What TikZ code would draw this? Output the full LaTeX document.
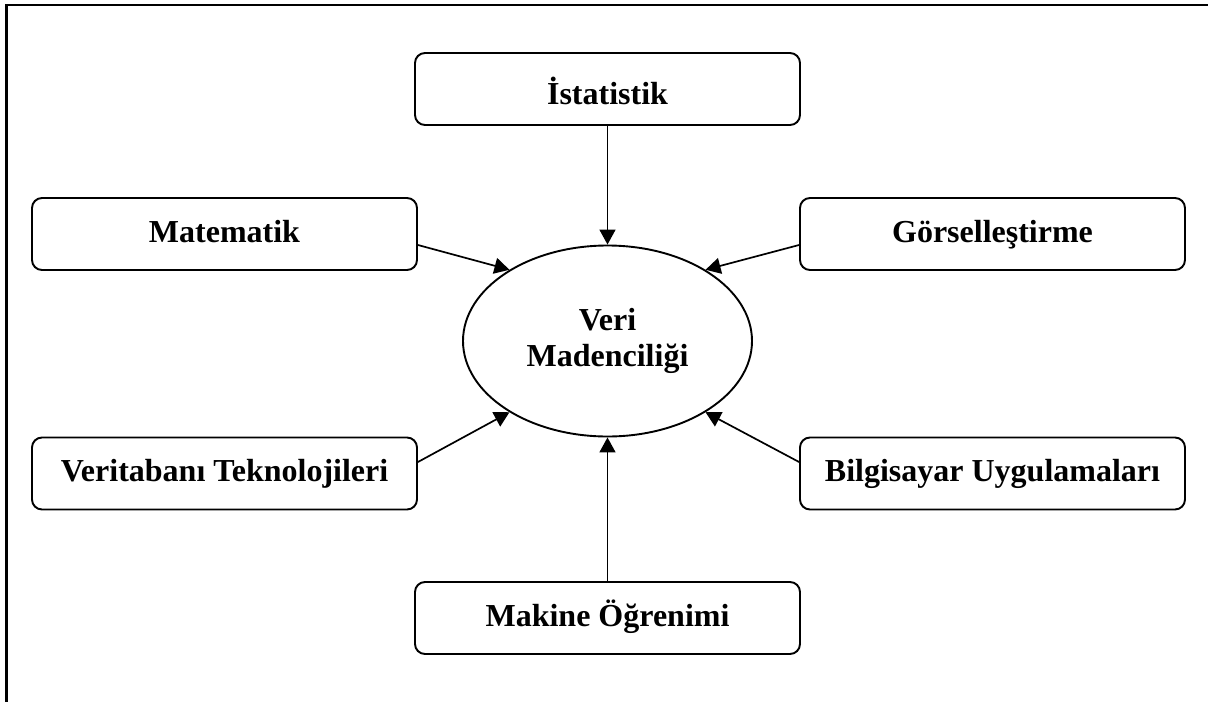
\documentclass[tikz,border=0pt]{standalone}
\usepackage{fontspec}
\setmainfont{Liberation Serif}
\usetikzlibrary{arrows.meta,shapes.geometric}
\begin{document}
\begin{tikzpicture}[x=1pt,y=-1pt,
  labelfont/.style={font=\fontsize{32}{36.7}\selectfont\bfseries},
  topic/.style={draw, line width=1.9pt, rounded corners=10pt,
    minimum width=385pt, minimum height=72pt, inner sep=0pt,
    text height=22pt, text depth=6pt, labelfont},
  core/.style={draw, ellipse, line width=1.9pt, minimum width=289pt,
    minimum height=191pt, inner sep=0pt, align=center, labelfont},
  link/.style={line width=1.7pt, -{Triangle[width=16pt,length=15pt]}}]
\useasboundingbox (0,0) rectangle (1208,702);
% page frame: top and left rules
\draw[line width=2.2pt] (1208,5) -- (6.5,5) -- (6.5,702);

% centre
\node[core] (vm) at (607.5,341) {Veri\\Madenciliği};

% surrounding fields
\node[topic, text height=30pt, text depth=0pt] (ist) at (607.5,89) {İstatistik};
\node[topic] (mat) at (224.5,234) {Matematik};
\node[topic] (gor) at (992.5,234) {Görselleştirme};
\node[topic] (vt)  at (224.5,473.5) {Veritabanı Teknolojileri};
\node[topic] (bu)  at (992.5,473.5) {Bilgisayar Uygulamaları};
\node[topic] (mk)  at (607.5,618) {Makine Öğrenimi};

% connectors into the centre
\draw[link] (ist.south) -- (vm.north);
\draw[link] ([yshift=-11pt]mat.east) -- (vm.144);
\draw[link] ([yshift=-11pt]gor.west) -- (vm.36);
\draw[link] ([yshift=11.5pt]vt.east) -- (vm.216);
\draw[link] ([yshift=11.5pt]bu.west) -- (vm.324);
\draw[link] (mk.north) -- (vm.south);
\end{tikzpicture}
\end{document}
